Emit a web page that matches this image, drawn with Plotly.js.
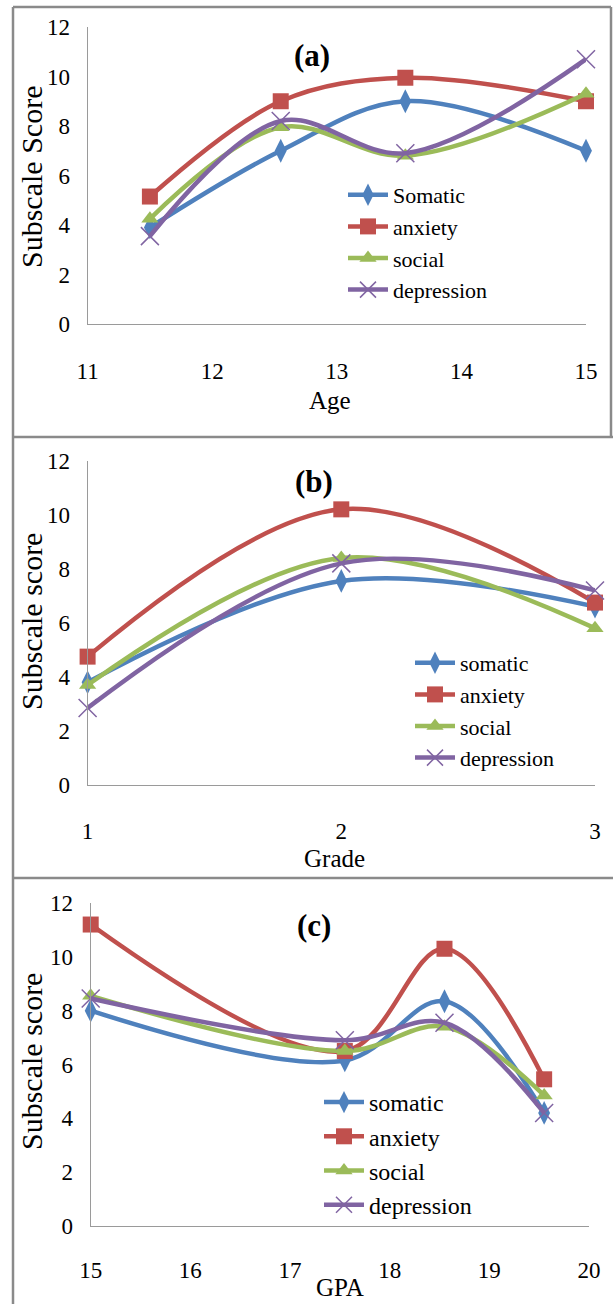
<!DOCTYPE html>
<html>
<head>
<meta charset="utf-8">
<script src="https://cdn.plot.ly/plotly-3.0.1.min.js"></script>
<style>html,body{margin:0;padding:0;background:#fff;}#chart{width:613px;height:1304px;}</style>
</head>
<body>
<div id="chart"></div>
<script>
// ---- Data ----
const seriesNames = ["Somatic", "anxiety", "social", "depression"];
const seriesNamesLower = ["somatic", "anxiety", "social", "depression"];

const ageX = [11.5, 12.55, 13.55, 15];
const ageSomatic = [3.9, 7.0, 9.0, 7.0];
const ageAnxiety = [5.15, 9.0, 9.95, 9.0];
const ageSocial = [4.25, 7.95, 6.8, 9.3];
const ageDepression = [3.55, 8.2, 6.9, 10.7];

const gradeX = [1, 2, 3];
const gradeSomatic = [3.8, 7.55, 6.6];
const gradeAnxiety = [4.75, 10.2, 6.75];
const gradeSocial = [3.7, 8.4, 5.8];
const gradeDepression = [2.85, 8.2, 7.2];

const gpaX = [15, 17.55, 18.55, 19.55];
const gpaSomatic = [8.0, 6.15, 8.35, 4.2];
const gpaAnxiety = [11.2, 6.5, 10.3, 5.45];
const gpaSocial = [8.55, 6.5, 7.4, 4.85];
const gpaDepression = [8.45, 6.9, 7.55, 4.2];

const ageTicks = [11, 12, 13, 14, 15];
const gradeTicks = [1, 2, 3];
const gpaTicks = [15, 16, 17, 18, 19, 20];
const yTicks = [0, 2, 4, 6, 8, 10, 12];

// ---- Styles ----
const W = 613, H = 1304;
const FONT = "Liberation Serif";
const colors = ["#4F81BD", "#C0504D", "#9BBB59", "#8064A2"];
const symbols = ["diamond-tall", "square", "triangle-up", "x-thin-open"];
const sizes = [17, 16, 15, 18];

const px = x => x / W;
const py = y => 1 - y / H;

function makeTraces(xs, ys, names, ax, legendId) {
  return ys.map((y, i) => ({
    type: "scatter", mode: "lines+markers",
    x: xs, y: y, name: names[i],
    xaxis: ax.x, yaxis: ax.y, legend: legendId,
    cliponaxis: false,
    line: {color: colors[i], width: 4.5, shape: "spline", smoothing: 1},
    marker: {symbol: symbols[i], size: sizes[i], color: colors[i],
             line: {color: colors[i], width: i === 3 ? 1.5 : 0}}
  }));
}

const traces = [].concat(
  makeTraces(ageX, [ageSomatic, ageAnxiety, ageSocial, ageDepression], seriesNames, {x: "x", y: "y"}, "legend"),
  makeTraces(gradeX, [gradeSomatic, gradeAnxiety, gradeSocial, gradeDepression], seriesNamesLower, {x: "x2", y: "y2"}, "legend2"),
  makeTraces(gpaX, [gpaSomatic, gpaAnxiety, gpaSocial, gpaDepression], seriesNamesLower, {x: "x3", y: "y3"}, "legend3")
);

function xAxis(range, ticks, domain, anchor, standoff) {
  return {domain: domain, range: range, anchor: anchor, tickvals: ticks, ticktext: ticks.map(String),
    showgrid: false, zeroline: false, showline: true, linecolor: "#9a9a9a", linewidth: 1,
    ticks: "", ticklabelstandoff: standoff, tickfont: {family: FONT, size: 23, color: "#000"}};
}
function yAxis(domain, anchor) {
  return {domain: domain, range: [0, 12], anchor: anchor, tickvals: yTicks, ticktext: yTicks.map(String),
    showgrid: false, zeroline: false, showline: true, linecolor: "#9a9a9a", linewidth: 1,
    ticks: "", ticklabelstandoff: 12, tickfont: {family: FONT, size: 23, color: "#000"}};
}

const borderColor = "#8a8a8a";
const bw = 2.5;
function line(x0, y0, x1, y1) {
  return {type: "line", xref: "paper", yref: "paper", x0: px(x0), y0: py(y0), x1: px(x1), y1: py(y1),
    line: {color: borderColor, width: bw}};
}

function ann(text, x, y, size, opts) {
  return Object.assign({text: text, xref: "paper", yref: "paper", x: px(x), y: py(y),
    xanchor: "center", yanchor: "middle", showarrow: false,
    font: {family: FONT, size: size, color: "#000"}}, opts || {});
}

function legend(x, yTop, size) {
  return {x: px(x), y: py(yTop), xanchor: "left", yanchor: "top", bgcolor: "rgba(0,0,0,0)",
    borderwidth: 0, font: {family: FONT, size: size, color: "#000"}, itemwidth: 40, tracegroupgap: 0};
}

const layout = {
  width: W, height: H, margin: {l: 0, r: 0, t: 0, b: 0},
  font: {family: FONT, color: "#000"},
  paper_bgcolor: "#fff", plot_bgcolor: "rgba(0,0,0,0)",
  showlegend: true,
  xaxis: xAxis([11, 15], ageTicks, [px(87.6), px(586)], "y", 26),
  yaxis: yAxis([py(324), py(27)], "x"),
  xaxis2: xAxis([1, 3], gradeTicks, [px(87.6), px(595)], "y2", 25),
  yaxis2: yAxis([py(785), py(460.7)], "x2"),
  xaxis3: xAxis([15, 20], gpaTicks, [px(90.7), px(589)], "y3", 23),
  yaxis3: yAxis([py(1226), py(903)], "x3"),
  legend: legend(343, 174, 22),
  legend2: legend(410, 642, 22),
  legend3: legend(319, 1080, 24),
  shapes: [
    line(13, 7, 611, 7),
    line(611, 7, 611, 437),
    line(13, 437, 613, 437),
    line(13, 878, 613, 878),
    line(13, 7, 13, 1304)
  ],
  annotations: [
    ann("<b>(a)</b>", 311.6, 55, 31),
    ann("<b>(b)</b>", 314, 482, 31),
    ann("<b>(c)</b>", 314, 925, 31),
    ann("Age", 330, 400, 25),
    ann("Grade", 334, 858, 25),
    ann("GPA", 340, 1287, 25),
    ann("Subscale Score", 31, 177, 30, {textangle: -90}),
    ann("Subscale score", 31, 622, 30, {textangle: -90}),
    ann("Subscale score", 31, 1062, 30, {textangle: -90})
  ]
};

Plotly.newPlot("chart", traces, layout, {displayModeBar: false, staticPlot: true});
</script>
</body>
</html>
